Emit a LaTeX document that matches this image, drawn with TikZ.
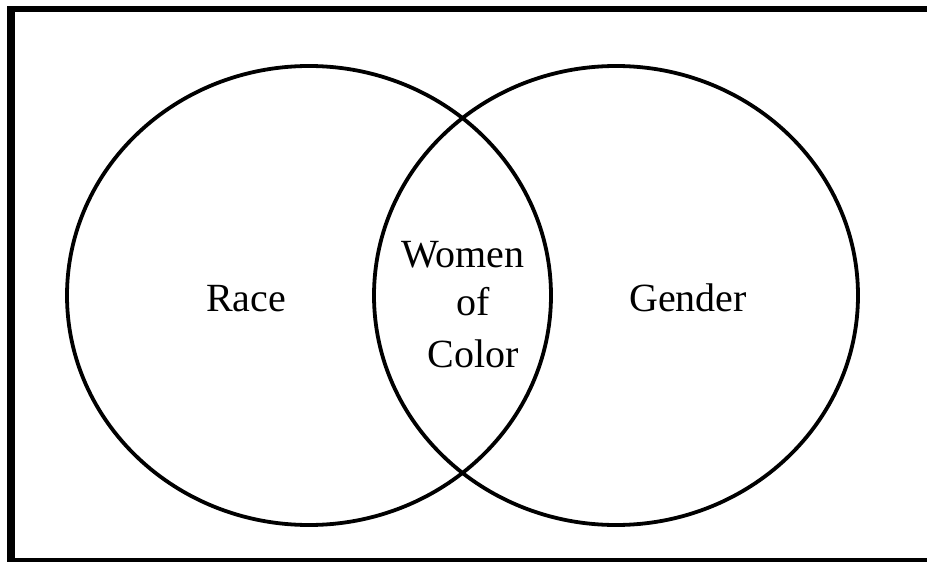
\documentclass[tikz,border=0pt]{standalone}
\usepackage{fontspec}
\setmainfont{Liberation Serif}
\begin{document}
\begin{tikzpicture}[x=1pt,y=-1pt,
  setring/.style={draw=black,line width=3.8pt},
  lbl/.style={font=\fontsize{40}{50}\selectfont,inner sep=0pt,anchor=base}]
\useasboundingbox (0,0) rectangle (927,562);
\begin{scope}
\clip (0,0) rectangle (927,562);
\coordinate (tl) at (11,9);
\coordinate (bl) at (11,560);
\coordinate (tr) at (935,9);
\coordinate (br) at (935,560);
\draw[line width=8pt] ([yshift=3pt]tl) -- ([yshift=-2pt]bl);
\draw[line width=5.5pt] ([xshift=-4pt]tl) -- (tr);
\draw[line width=4.5pt] ([xshift=-4pt]bl) -- (br);
\end{scope}
\draw[setring] (309,295.5) ellipse [x radius=242, y radius=229.5];
\draw[setring] (616,295.5) ellipse [x radius=242, y radius=229.5];
\node[lbl] (race) at (246,311) {Race};
\node[lbl] (gender) at (688,311) {Gender};
\node[lbl] (women) at (463,267) {Women};
\node[lbl] (of) at (473,315) {of};
\node[lbl] (color) at (473,367) {Color};
\end{tikzpicture}
\end{document}
